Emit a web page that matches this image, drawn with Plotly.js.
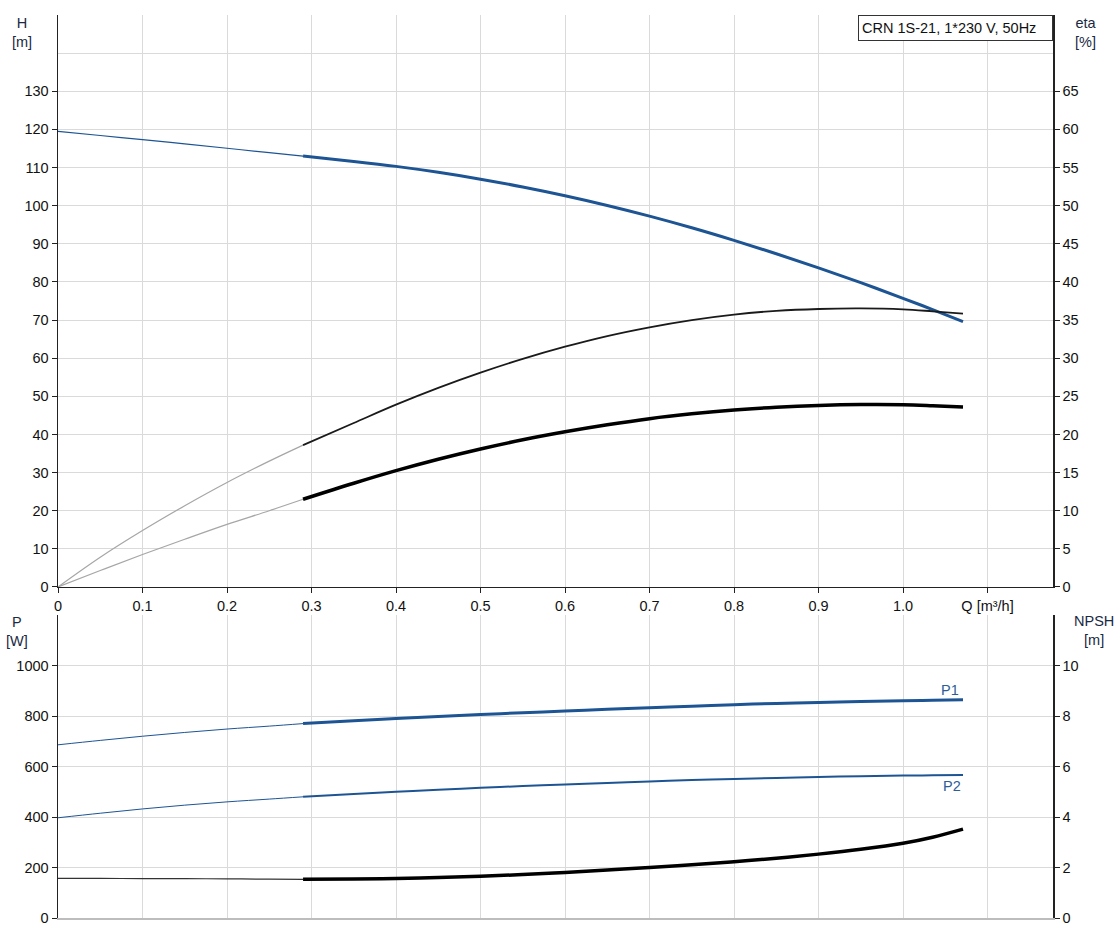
<!DOCTYPE html>
<html>
<head>
<meta charset="utf-8">
<script src="https://cdn.plot.ly/plotly-3.0.1.min.js"></script>
<style>html,body{margin:0;padding:0;background:#fff;}#chart{width:1119px;height:939px;}</style>
</head>
<body>
<div id="chart"></div>
<script>
// Flow values (m³/h)
const qThin = [0, 0.05, 0.1, 0.15, 0.2, 0.25, 0.29];
const qMain = [0.29, 0.35, 0.4, 0.45, 0.5, 0.55, 0.6, 0.65, 0.7, 0.75, 0.8, 0.85, 0.9, 0.95, 1.0, 1.035, 1.071];

// Head H [m]
const hThin = [119.5, 118.4, 117.3, 116.2, 115.05, 113.9, 113.0];
const hMain = [113.0, 111.6, 110.3, 108.75, 106.95, 104.9, 102.6, 100.05, 97.25, 94.2, 90.9, 87.4, 83.7, 79.8, 75.7, 72.75, 69.6];

// Pump efficiency eta [%]
const etaThin = [0, 3.9, 7.4, 10.65, 13.7, 16.5, 18.6];
const etaMain = [18.6, 21.5, 23.9, 26.1, 28.1, 29.9, 31.5, 32.9, 34.05, 35.0, 35.72, 36.2, 36.45, 36.52, 36.4, 36.15, 35.85];

// Total efficiency eta [%]
const eta2Thin = [0, 2.15, 4.25, 6.25, 8.2, 10.0, 11.5];
const eta2Main = [11.5, 13.6, 15.25, 16.75, 18.1, 19.3, 20.35, 21.27, 22.07, 22.7, 23.2, 23.56, 23.8, 23.92, 23.9, 23.77, 23.6];

// Power P1, P2 [W]
const p1Thin = [686, 703.5, 720, 735, 748.5, 760, 770];
const p1Main = [770, 781, 790, 798.5, 806, 813, 820, 826.5, 833, 839, 845, 850, 854, 857.5, 860.5, 862.3, 864];
const p2Thin = [397, 415, 432, 447, 460, 471, 480];
const p2Main = [480, 491, 500, 508, 515.5, 522.5, 529, 535, 541, 546.5, 551, 555, 558.5, 561.5, 564, 565.3, 566.5];

// NPSH [m]
const npshThin = [1.57, 1.57, 1.56, 1.56, 1.55, 1.54, 1.53];
const npshMain = [1.53, 1.54, 1.56, 1.60, 1.65, 1.72, 1.80, 1.90, 2.00, 2.11, 2.23, 2.37, 2.53, 2.72, 2.96, 3.2, 3.52];

// Tick labels
const qTicks = [0, 0.1, 0.2, 0.3, 0.4, 0.5, 0.6, 0.7, 0.8, 0.9, 1.0, 1.1];
const qTickText = ['0', '0.1', '0.2', '0.3', '0.4', '0.5', '0.6', '0.7', '0.8', '0.9', '1.0', 'Q [m³/h]'];
const hTicks = [0, 10, 20, 30, 40, 50, 60, 70, 80, 90, 100, 110, 120, 130];
const etaTicks = [0, 5, 10, 15, 20, 25, 30, 35, 40, 45, 50, 55, 60, 65];
const pTicks = [0, 200, 400, 600, 800, 1000];
const npshTicks = [0, 2, 4, 6, 8, 10];

const BLUE = '#1d5493';
const FONT = 'Liberation Sans, Arial, sans-serif';
const FS = 14.5;

function tr(x, y, xa, ya, color, width) {
  return {x: x, y: y, xaxis: xa, yaxis: ya, type: 'scatter', mode: 'lines',
    line: {color: color, width: width, shape: 'spline', smoothing: 1}, hoverinfo: 'skip', showlegend: false};
}

const data = [
  tr(qThin, etaThin, 'x', 'y2', '#a6a6a6', 1.2),
  tr(qThin, eta2Thin, 'x', 'y2', '#a6a6a6', 1.2),
  tr(qMain, etaMain, 'x', 'y2', '#1a1a1a', 1.8),
  tr(qMain, eta2Main, 'x', 'y2', '#000000', 3.5),
  tr(qThin, hThin, 'x', 'y', BLUE, 1.2),
  tr(qMain, hMain, 'x', 'y', BLUE, 3),
  tr(qThin, npshThin, 'x2', 'y4', '#333333', 1.2),
  tr(qMain, npshMain, 'x2', 'y4', '#000000', 3.5),
  tr(qThin, p2Thin, 'x2', 'y3', BLUE, 1),
  tr(qMain, p2Main, 'x2', 'y3', BLUE, 2),
  tr(qThin, p1Thin, 'x2', 'y3', BLUE, 1),
  tr(qMain, p1Main, 'x2', 'y3', BLUE, 3)
];

const topDom = [0.3666, 1];
const botDom = [0, 0.3355];
const tickFont = {family: FONT, size: FS, color: '#111'};
const GRID = '#dadada';
const labFont = {family: FONT, size: FS, color: '#1a2a44'};

const layout = {
  width: 1119, height: 939,
  margin: {l: 58, r: 66, t: 15, b: 21},
  paper_bgcolor: '#fff', plot_bgcolor: '#fff',
  font: {family: FONT, size: FS, color: '#111'},
  showlegend: false,
  xaxis: {
    domain: [0, 1], range: [0, 1.1775], anchor: 'y',
    tickmode: 'array', tickvals: qTicks, ticktext: qTickText,
    showgrid: true, gridcolor: GRID, gridwidth: 1,
    showline: true, linecolor: '#222', linewidth: 1.5,
    ticks: 'outside', ticklen: 5, tickcolor: '#222',
    zeroline: false, tickfont: tickFont
  },
  xaxis2: {
    domain: [0, 1], range: [0, 1.1775], anchor: 'y3',
    tickmode: 'array', tickvals: qTicks,
    showticklabels: false, ticks: '',
    showgrid: true, gridcolor: GRID, gridwidth: 1,
    showline: true, linecolor: '#bdbdbd', linewidth: 2,
    zeroline: false
  },
  yaxis: {
    domain: topDom, range: [0, 150], anchor: 'x',
    tickmode: 'array', tickvals: hTicks,
    showgrid: true, gridcolor: GRID, gridwidth: 1,
    minor: {tickvals: [140, 150], showgrid: true, gridcolor: GRID, ticks: ''},
    showline: true, linecolor: '#222', linewidth: 1.5,
    ticks: 'outside', ticklen: 5, tickcolor: '#222',
    zeroline: false, tickfont: tickFont
  },
  yaxis2: {
    overlaying: 'y', side: 'right', anchor: 'x', range: [0, 75],
    tickmode: 'array', tickvals: etaTicks,
    showgrid: false, showline: true, linecolor: '#222', linewidth: 1.5,
    ticks: 'outside', ticklen: 5, tickcolor: '#222',
    zeroline: false, tickfont: tickFont
  },
  yaxis3: {
    domain: botDom, range: [0, 1200], anchor: 'x2',
    tickmode: 'array', tickvals: pTicks,
    showgrid: true, gridcolor: GRID, gridwidth: 1,
    minor: {tickvals: [1200], showgrid: true, gridcolor: '#222', gridwidth: 1.5, ticks: ''},
    showline: true, linecolor: '#222', linewidth: 1.5,
    ticks: 'outside', ticklen: 5, tickcolor: '#222',
    zeroline: false, tickfont: tickFont
  },
  yaxis4: {
    overlaying: 'y3', side: 'right', anchor: 'x2', range: [0, 12],
    tickmode: 'array', tickvals: npshTicks,
    showgrid: false, showline: true, linecolor: '#222', linewidth: 1.5,
    ticks: 'outside', ticklen: 5, tickcolor: '#222',
    zeroline: false, tickfont: tickFont
  },
  annotations: [
    {text: 'H<br>[m]', xref: 'paper', yref: 'paper', x: -0.0362, y: 1.002, xanchor: 'center', yanchor: 'top', showarrow: false, font: labFont},
    {text: 'eta<br>[%]', xref: 'paper', yref: 'paper', x: 1.0322, y: 1.002, xanchor: 'center', yanchor: 'top', showarrow: false, font: labFont},
    {text: 'P<br>[W]', xref: 'paper', yref: 'paper', x: -0.0412, y: 0.3389, xanchor: 'center', yanchor: 'top', showarrow: false, font: labFont},
    {text: 'NPSH<br>[m]', xref: 'paper', yref: 'paper', x: 1.0412, y: 0.34, xanchor: 'center', yanchor: 'top', showarrow: false, font: labFont},
    {text: 'CRN 1S-21, 1*230 V, 50Hz', xref: 'paper', yref: 'paper', x: 1, y: 1, xanchor: 'right', yanchor: 'top', showarrow: false,
      width: 187, height: 18, align: 'left', valign: 'middle',
      font: {family: FONT, size: FS, color: '#111'}, bgcolor: '#fff', bordercolor: '#333', borderwidth: 1, borderpad: 3},
    {text: 'P1', xref: 'x2', yref: 'y3', x: 1.0556, y: 905, xanchor: 'center', yanchor: 'middle', showarrow: false, font: {family: FONT, size: FS, color: '#2d5d96'}},
    {text: 'P2', xref: 'x2', yref: 'y3', x: 1.058, y: 524, xanchor: 'center', yanchor: 'middle', showarrow: false, font: {family: FONT, size: FS, color: '#2d5d96'}}
  ]
};

Plotly.newPlot('chart', data, layout, {displayModeBar: false, staticPlot: true});
</script>
</body>
</html>
